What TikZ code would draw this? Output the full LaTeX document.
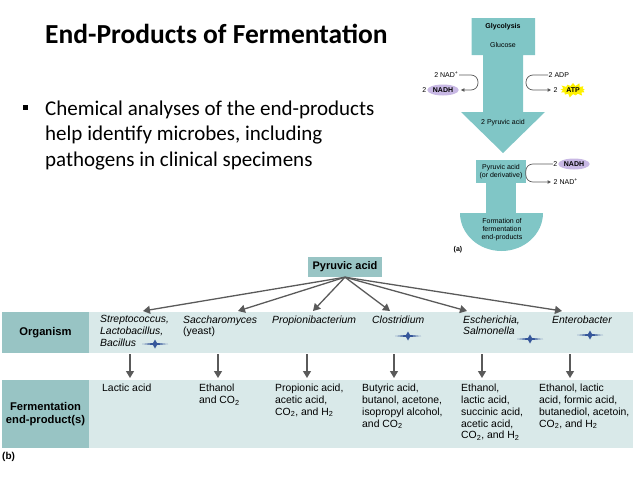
\documentclass[tikz,border=0pt]{standalone}
\usepackage{fontspec}
\setmainfont{Carlito}
\newfontfamily\arial{Liberation Sans}
\usepackage{xcolor}
\usepackage{tikz}
\usetikzlibrary{arrows.meta}
\usetikzlibrary{shapes.geometric}
\usetikzlibrary{shapes.symbols}
\usetikzlibrary{calc}

\definecolor{pathteal}{HTML}{80C6C6}
\definecolor{headteal}{HTML}{98C4C4}
\definecolor{bandteal}{HTML}{D9E9E9}
\definecolor{nadhlilac}{HTML}{C8B8E4}
\definecolor{arrowgray}{HTML}{5A5A5A}
\definecolor{starblue}{HTML}{35569A}

\begin{document}
\begin{tikzpicture}[x = 1pt, y = -1pt,
		small/.style = {font = \arial\fontsize{7}{8}\selectfont, inner sep = 0.5pt},
		smallbold/.style = {font = \arial\bfseries\fontsize{7}{8}\selectfont, inner sep = 0.5pt},
		bubble/.style = {ellipse, fill = nadhlilac, inner sep = 1pt, minimum height = 11pt, font = \arial\bfseries\fontsize{7}{8}\selectfont},
		loopline/.style = {draw = arrowgray, line width = 0.7pt, rounded corners = 7pt, shorten > = 2pt, -{Triangle[length = 3.5pt, width = 3.5pt]}},
		fan/.style = {draw = arrowgray, line width = 1.3pt, -{Triangle[length = 7pt, width = 8pt]}},
		header/.style = {fill = headteal, minimum width = 87pt, align = center, font = \arial\bfseries\fontsize{11.2}{12.4}\selectfont},
		cell/.style = {anchor = north west, inner sep = 0, align = left, font = \arial\fontsize{10.4}{11.8}\selectfont}]
		
		\useasboundingbox (0, 0) rectangle (638, 479);
		
		% slide text
		\node (title) [anchor = base west, inner sep = 0, font = \bfseries\fontsize{27.5}{32}\selectfont] at (45, 43) {End-Products of Fermentation};
		\node (bullet) [fill = black, minimum size = 5pt, inner sep = 0] at (25.5, 107) {};
		\node (point) [anchor = base west, inner sep = 0, align = left, font = \fontsize{21}{25.5}\selectfont] at (45, 166) {Chemical analyses of the end-products\\help identify microbes, including\\pathogens in clinical specimens};
		
		% (a) pathway
		\fill [pathteal] (471.5, 18) -- (535, 18) -- (535, 55) -- (523, 55) -- (523, 112) -- (545, 112) -- (503, 153) -- (461, 112) -- (483, 112) -- (483, 55) -- (471.5, 55) -- cycle;
		\fill [pathteal] (476, 160) rectangle (526, 183);
		\fill [pathteal] (486, 183) rectangle (516, 213);
		\fill [pathteal] (460, 213) arc [start angle = 180, end angle = 0, x radius = 41.5, y radius = 38] -- cycle;
		
		\node (glyco) [smallbold] at (503, 27) {Glycolysis};
		\node (glucose) [small] at (503, 45) {Glucose};
		\node (pyrtwo) [small] at (503, 123) {2 Pyruvic acid};
		\node (nadin) [small, anchor = east] at (459, 75) {2 NAD\textsuperscript{+}};
		\node (nadh) [bubble] at (443, 90) {NADH};
		\node (nadhtwo) [small, anchor = east] at (nadh.west) {2};
		\node (adp) [small, anchor = west] at (548, 75) {2 ADP};
		\node (atptwo) [small, anchor = west] at (553, 90) {2};
		\node (atp) [starburst, fill = yellow, inner sep = 0.5pt, starburst points = 13, starburst point height = 4pt, font = \arial\bfseries\fontsize{7}{8}\selectfont] at (573, 90) {ATP};
		\node (deriv) [small, align = center] at (501, 171.5) {Pyruvic acid\\(or derivative)};
		\node (nadhb) [bubble] at (574, 164) {NADH};
		\node (nadhbtwo) [small, anchor = east] at (nadhb.west) {2};
		\node (nadout) [small, anchor = west] at (553, 182) {2 NAD\textsuperscript{+}};
		\node (form) [small, align = center] at (502, 230) {Formation of\\fermentation\\end-products};
		\node (parta) [smallbold] at (458, 250) {(a)};
		
		\draw [loopline] (nadin.east) -- ++(19, 0) |- (nadh.east);
		\draw [loopline] (adp.west) -- ++(-22, 0) |- (atptwo.west);
		\draw [loopline] (nadhbtwo.west) -- ++(-27, 0) |- (nadout.west);
		
		% (b) table
		\fill [bandteal] (2, 312) rectangle (633, 353);
		\fill [bandteal] (2, 380) rectangle (633, 448);
		\node (orghead) [header, minimum height = 41pt] at (45.5, 332.5) {Organism};
		\node (prodhead) [header, minimum height = 68pt] at (45.5, 414) {Fermentation\\end-product(s)};
		\node (pyr) [fill = headteal, minimum width = 74pt, minimum height = 20pt, font = \arial\bfseries\fontsize{11}{12}\selectfont] at (345, 267) {Pyruvic acid};
		\node (partb) [anchor = west, inner sep = 0, font = \arial\bfseries\fontsize{10}{12}\selectfont] at (2, 457) {(b)};
		
		\begin{scope}[every node/.style = {cell, font = \arial\itshape\fontsize{10.4}{11.7}\selectfont}]
		\node (org1) at (100, 315.5) {Streptococcus,\\Lactobacillus,\\Bacillus};
		\node (org2) at (183, 315.5) {Saccharomyces\\\textup{(yeast)}};
		\node (org3) at (272, 315.5) {Propionibacterium};
		\node (org4) at (372, 315.5) {Clostridium};
		\node (org5) at (463, 315.5) {Escherichia,\\Salmonella};
		\node (org6) at (552, 315.5) {Enterobacter};
		\end{scope}
		
		\begin{scope}[every node/.style = {cell}]
		\node (prod1) at (102, 384) {Lactic acid};
		\node (prod2) at (199, 384) {Ethanol\\and CO\textsubscript{2}};
		\node (prod3) at (275, 384) {Propionic acid,\\acetic acid,\\CO\textsubscript{2}, and H\textsubscript{2}};
		\node (prod4) at (362, 384) {Butyric acid,\\butanol, acetone,\\isopropyl alcohol,\\and CO\textsubscript{2}};
		\node (prod5) at (461, 384) {Ethanol,\\lactic acid,\\succinic acid,\\acetic acid,\\CO\textsubscript{2}, and H\textsubscript{2}};
		\node (prod6) at (539, 384) {Ethanol, lactic\\acid, formic acid,\\butanediol, acetoin,\\CO\textsubscript{2}, and H\textsubscript{2}};
		\end{scope}
		
		\foreach \tx [count = \i] in {143, 238, 313, 390, 467, 562} {
			\coordinate (top\i) at (\tx, 311);
			\draw [fan] (pyr.south) -- (top\i);
		}
		
		\foreach \dx [count = \i] in {130, 218, 307, 394, 482, 570} {
			\coordinate (up\i) at (\dx, 354);
			\coordinate (down\i) at (\dx, 378);
			\draw [fan] (up\i) -- (down\i);
		}
		
		\foreach \sx/\sy in {155/344, 408/336, 530/339, 590/335}
			\fill [starblue, shift = {(\sx, \sy)}] (-13, 0) -- (-2, -1) -- (0, -4.5) -- (2, -1) -- (13, 0) -- (2, 1) -- (0, 4.5) -- (-2, 1) -- cycle;
		
		\end{tikzpicture}
\end{document}
